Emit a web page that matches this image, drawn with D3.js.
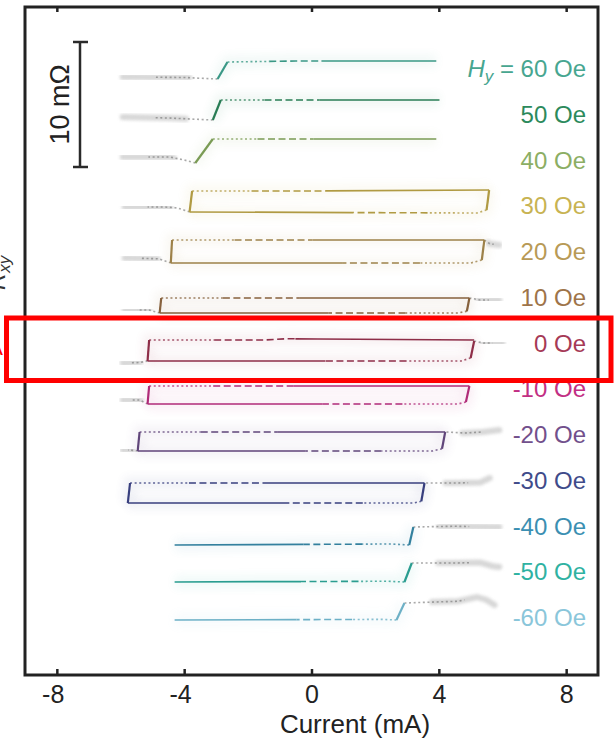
<!DOCTYPE html>
<html>
<head>
<meta charset="utf-8">
<script src="https://cdn.jsdelivr.net/npm/d3@7/dist/d3.min.js"></script>
<style>
  html, body { margin: 0; padding: 0; background: #fff; }
  svg { display: block; font-family: "Liberation Sans", Arial, Helvetica, sans-serif; }
</style>
</head>
<body>
<svg id="chart" width="614" height="742"></svg>
<script>
// In-plane field for each stacked trace (Oe), top to bottom
const fields = [60, 50, 40, 30, 20, 10, 0, -10, -20, -30, -40, -50, -60];
const labelColors = ["#47a690", "#2c8a5c", "#8cae64", "#c8b352", "#b89a56", "#9e7449",
                     "#a63a56", "#c22f84", "#72508c", "#404b8a", "#3b8fb2", "#2fb2a2", "#8ac6da"];
const lineColors  = ["#3a9886", "#287c54", "#7a9b54", "#b09a42", "#9d8149", "#86613d",
                     "#8e2e48", "#b02a78", "#60457a", "#383f7e", "#33809e", "#2a9d90", "#6cb0c6"];
const xTicks = [-8, -4, 0, 4, 8];
const scaleBarValue = 10; // mΩ

// Each trace: R_xy (mΩ, stacked) vs current (mA).
// loops: swept branches, first step is the switching jump.
// tails: data beyond the switching current, listed outward from the jump.
const h60  = { tails: [[[-2.95, 47.68], [-4.0, 47.8], [-5.93, 47.84]]],
               loops: [[[-2.95, 47.68], [-2.64, 49.04], [-0.5, 49.12], [3.92, 49.12]]] };
const h50  = { tails: [[[-3.1, 44.4], [-4.5, 44.56], [-5.93, 44.64]]],
               loops: [[[-3.1, 44.4], [-2.85, 46.0], [4.02, 46.0]]] };
const h40  = { tails: [[[-3.65, 40.96], [-4.0, 41.2], [-4.45, 41.44], [-5.93, 41.44]]],
               loops: [[[-3.65, 40.96], [-3.1, 42.88], [3.92, 42.88]]] };
const h30  = { tails: [[[-3.83, 37.04], [-4.2, 37.36], [-4.6, 37.44], [-5.87, 37.44]]],
               loops: [[[-3.83, 37.04], [-3.75, 38.72], [0, 38.72], [5.58, 38.8]],
                       [[5.58, 38.8], [5.5, 37.2], [5.2, 36.96], [-3.83, 37.04]]] };
const h20  = { tails: [[[-4.42, 32.96], [-4.8, 33.3], [-5.87, 33.36]],
                       [[5.43, 34.8], [5.6, 34.5], [5.9, 34.4]]],
               loops: [[[-4.42, 32.96], [-4.38, 34.8], [5.43, 34.8]],
                       [[5.43, 34.8], [5.35, 33.2], [5.0, 32.96], [-4.42, 32.96]]] };
const h10  = { tails: [[[-4.77, 28.96], [-5.1, 29.2], [-5.87, 29.2]],
                       [[4.96, 30.16], [5.3, 30.0], [5.9, 30.0]]],
               loops: [[[-4.77, 28.96], [-4.72, 30.16], [4.96, 30.16]],
                       [[4.96, 30.16], [4.88, 29.1], [4.6, 28.96], [-4.77, 28.96]]] };
const h0   = { tails: [[[-5.15, 25.12], [-5.4, 25.0], [-5.93, 24.96]],
                       [[5.11, 26.72], [5.4, 26.56], [6.0, 26.56]]],
               loops: [[[-5.15, 25.12], [-5.1, 26.8], [-1.5, 26.8], [-0.8, 26.9], [0.2, 26.88], [5.11, 26.8]],
                       [[5.11, 26.72], [5.0, 25.36], [4.7, 25.12], [-5.15, 25.12]]] };
const hm10 = { tails: [[[-5.15, 21.68], [-5.4, 22.0], [-5.93, 22.0]]],
               loops: [[[-5.15, 21.68], [-5.1, 23.12], [4.96, 23.12]],
                       [[4.96, 23.12], [4.85, 21.84], [4.6, 21.68], [-5.15, 21.68]]] };
const hm20 = { tails: [[[-5.46, 17.92], [-5.7, 18.0], [-5.93, 18.0]],
                       [[4.24, 19.44], [4.8, 19.36], [5.4, 19.44], [5.9, 19.6]]],
               loops: [[[-5.46, 17.92], [-5.4, 19.44], [4.2, 19.44]],
                       [[4.2, 19.44], [4.1, 18.1], [3.8, 17.92], [-5.46, 17.92]]] };
const hm30 = { tails: [[[3.6, 15.36], [4.5, 15.36], [5.3, 15.4], [5.6, 15.76]]],
               loops: [[[-5.77, 13.76], [-5.7, 15.36], [3.55, 15.36]],
                       [[3.55, 15.36], [3.45, 13.9], [3.2, 13.76], [-5.77, 13.76]]] };
const hm40 = { tails: [[[3.2, 11.84], [4.5, 11.9], [5.9, 11.84]]],
               loops: [[[3.2, 11.84], [3.07, 10.4], [2.5, 10.48], [-4.3, 10.4]]] };
const hm50 = { tails: [[[3.15, 8.96], [4.5, 8.96], [5.3, 9.0], [5.7, 8.7], [5.9, 8.64]]],
               loops: [[[3.15, 8.96], [2.92, 7.44], [2.4, 7.5], [-4.3, 7.44]]] };
const hm60 = { tails: [[[2.92, 5.76], [4.6, 5.9], [5.2, 6.24], [5.5, 6.0], [5.75, 5.6]]],
               loops: [[[2.92, 5.76], [2.67, 4.4], [2.2, 4.45], [-4.3, 4.4]]] };
const traces = [h60, h50, h40, h30, h20, h10, h0, hm10, hm20, hm30, hm40, hm50, hm60];

// ---------- layout ----------
const frame = { left: 25, right: 598, top: 7, bottom: 675 };
const svg = d3.select("#chart");

const x = d3.scaleLinear().domain([-9, 9]).range([frame.left, frame.right]);
const y = d3.scaleLinear().domain([0, 53.44]).range([frame.bottom, frame.top]);

const defs = svg.append("defs");
defs.append("filter").attr("id", "soft").attr("x", "-20%").attr("y", "-200%")
  .attr("width", "140%").attr("height", "500%")
  .append("feGaussianBlur").attr("stdDeviation", 1.4);
defs.append("filter").attr("id", "haze").attr("x", "-20%").attr("y", "-300%")
  .attr("width", "140%").attr("height", "700%")
  .append("feGaussianBlur").attr("stdDeviation", 5);

const line = d3.line();
const toPx = pts => pts.map(([i, r]) => [x(i), y(r)]);

// sub-polyline between fractions a..b of the total length
function cut(pts, a, b) {
  const seg = [];
  let total = 0;
  for (let i = 1; i < pts.length; i++) {
    const d = Math.hypot(pts[i][0] - pts[i - 1][0], pts[i][1] - pts[i - 1][1]);
    seg.push(d); total += d;
  }
  const at = s => {
    let acc = 0;
    for (let i = 0; i < seg.length; i++) {
      if (s <= acc + seg[i] || i === seg.length - 1) {
        const t = seg[i] ? Math.min(1, Math.max(0, (s - acc) / seg[i])) : 0;
        return [pts[i][0] + t * (pts[i + 1][0] - pts[i][0]), pts[i][1] + t * (pts[i + 1][1] - pts[i][1])];
      }
      acc += seg[i];
    }
  };
  const s0 = a * total, s1 = b * total;
  const out = [at(s0)];
  let acc = 0;
  for (let i = 0; i < seg.length; i++) {
    acc += seg[i];
    if (acc > s0 && acc < s1) out.push(pts[i + 1]);
  }
  out.push(at(s1));
  return out;
}

const plot = svg.append("g");

// faint colour halo round every trace
traces.forEach((tr, k) => {
  tr.loops.forEach(b => {
    plot.append("path").attr("d", line(toPx(b)))
      .attr("fill", "none").attr("stroke", labelColors[k])
      .attr("stroke-width", 12).attr("opacity", 0.07).attr("filter", "url(#haze)");
  });
});

traces.forEach((tr, k) => {
  const col = lineColors[k];
  const g = plot.append("g");

  // data past the switching current
  tr.tails.forEach(t => {
    const p = toPx(t);
    g.append("path").attr("d", line(cut(p, 0.3, 1)))
      .attr("fill", "none").attr("stroke", "#cdcdcd").attr("stroke-width", 6)
      .attr("stroke-linecap", "round").attr("opacity", 0.8).attr("filter", "url(#soft)");
    g.append("path").attr("d", line(cut(p, 0, 0.65)))
      .attr("fill", "none").attr("stroke", "#6f6f6f").attr("stroke-width", 1.6)
      .attr("stroke-dasharray", "2,2.6").attr("opacity", 0.6);
  });

  // swept branches: jump, then sparse -> dense sampling
  tr.loops.forEach(b => {
    const p = toPx(b);
    g.append("path").attr("d", line(p.slice(0, 2)))
      .attr("fill", "none").attr("stroke", col).attr("stroke-width", 2.2);
    const rest = p.slice(1);
    g.append("path").attr("d", line(cut(rest, 0, 0.2)))
      .attr("fill", "none").attr("stroke", col).attr("stroke-width", 1.6)
      .attr("stroke-dasharray", "2,2.6").attr("opacity", 0.8);
    g.append("path").attr("d", line(cut(rest, 0.2, 0.45)))
      .attr("fill", "none").attr("stroke", col).attr("stroke-width", 1.6)
      .attr("stroke-dasharray", "7,3.5");
    g.append("path").attr("d", line(cut(rest, 0.45, 1)))
      .attr("fill", "none").attr("stroke", col).attr("stroke-width", 1.7);
  });
});

// field labels
const labels = svg.append("g").attr("font-size", 24).attr("text-anchor", "end");
fields.forEach((f, k) => {
  const t = labels.append("text").attr("x", 586).attr("y", 77 + k * 45.75)
    .attr("fill", labelColors[k]);
  if (k === 0) {
    t.append("tspan").attr("font-style", "italic").text("H");
    t.append("tspan").attr("font-style", "italic").attr("font-size", 17).attr("dy", 5).text("y");
    t.append("tspan").attr("dy", -5).text(` = ${f} Oe`);
  } else {
    t.text(`${f} Oe`);
  }
});

// scale bar
const sbBottom = 40.64;
const sb = svg.append("g").attr("stroke", "#2a2a2a").attr("stroke-width", 2.5);
sb.append("line").attr("x1", 80).attr("x2", 80).attr("y1", y(sbBottom)).attr("y2", y(sbBottom + scaleBarValue));
sb.append("line").attr("x1", 73).attr("x2", 88).attr("y1", y(sbBottom)).attr("y2", y(sbBottom));
sb.append("line").attr("x1", 73).attr("x2", 88).attr("y1", y(sbBottom + scaleBarValue)).attr("y2", y(sbBottom + scaleBarValue));
svg.append("text")
  .attr("transform", `translate(69,${(y(sbBottom) + y(sbBottom + scaleBarValue)) / 2}) rotate(-90)`)
  .attr("text-anchor", "middle").attr("font-size", 27).attr("fill", "#222")
  .text(`${scaleBarValue} mΩ`);

// frame and axes
svg.append("rect").attr("x", frame.left).attr("y", frame.top)
  .attr("width", frame.right - frame.left).attr("height", frame.bottom - frame.top)
  .attr("fill", "none").attr("stroke", "#222").attr("stroke-width", 3);

const xAxis = d3.axisBottom(x).tickValues(xTicks).tickSizeInner(-6).tickSizeOuter(0)
  .tickPadding(10).tickFormat(d => String(d));
const gx = svg.append("g").attr("transform", `translate(0,${frame.bottom})`).call(xAxis);
gx.select(".domain").remove();
gx.selectAll(".tick line").attr("stroke", "#222").attr("stroke-width", 2.5);
gx.selectAll(".tick text").attr("font-size", 25).attr("fill", "#222")
  .attr("font-family", "'Liberation Sans', Arial, sans-serif")
  .each(function (d) {
    if (d < 0) d3.select(this).attr("text-anchor", "end").attr("x", 7);
  });

const gTop = svg.append("g").attr("transform", `translate(0,${frame.top})`)
  .call(d3.axisTop(x).tickValues(xTicks).tickSizeInner(-5).tickSizeOuter(0).tickFormat(""));
gTop.select(".domain").remove();
gTop.selectAll(".tick line").attr("stroke", "#222").attr("stroke-width", 2.5);

svg.append("text").attr("x", 355).attr("y", 733).attr("text-anchor", "middle")
  .attr("font-size", 26).attr("fill", "#222").text("Current (mA)");

// y title (runs off the left edge)
const yt = svg.append("text").attr("transform", "translate(5,290) rotate(-90)")
  .attr("font-size", 24).attr("fill", "#333");
yt.append("tspan").attr("font-style", "italic").text("R");
yt.append("tspan").attr("font-style", "italic").attr("font-size", 17).attr("dy", 5).text("xy");

// highlight of the zero-field trace
svg.append("text").attr("x", 3).attr("y", 355).attr("text-anchor", "end")
  .attr("font-size", 22).attr("fill", "#ff0000").text("A");
svg.append("rect").attr("x", 6.5).attr("y", 318).attr("width", 604.5).attr("height", 62.5)
  .attr("fill", "none").attr("stroke", "#ff0000").attr("stroke-width", 5);
</script>
</body>
</html>
